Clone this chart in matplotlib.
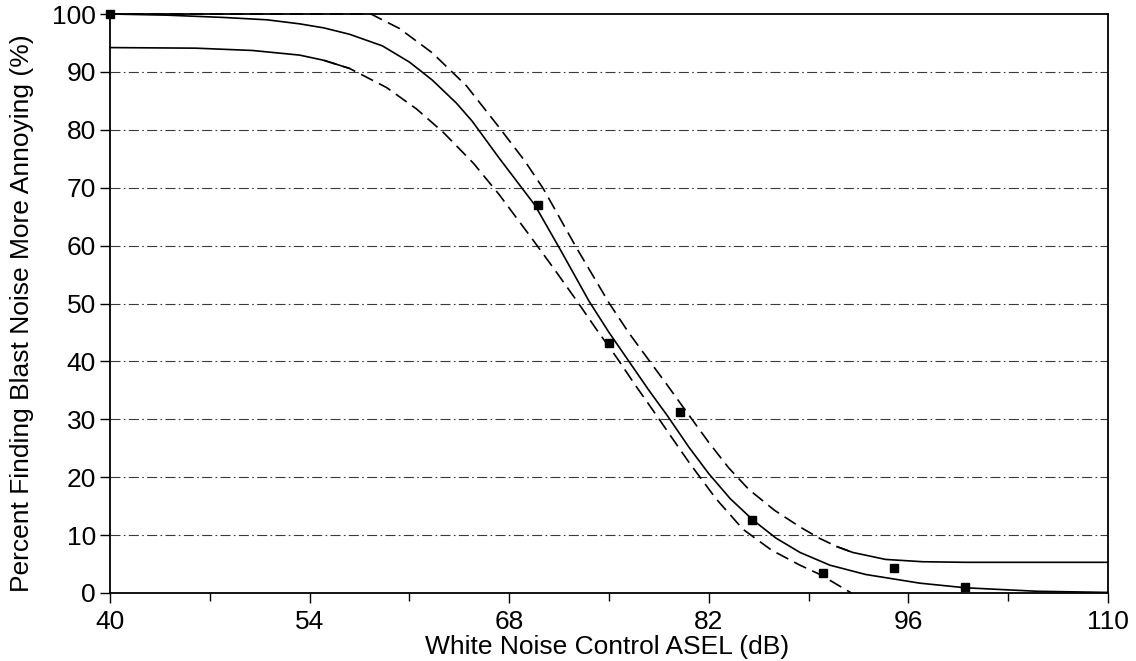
import matplotlib
matplotlib.use("Agg")
import matplotlib.pyplot as plt
import numpy as np

plt.rcParams['font.family'] = ['Liberation Sans', 'DejaVu Sans']

# Observed percentages at each white-noise control level
obs_x = [40, 70, 75, 80, 85, 90, 95, 100]
obs_y = [100, 67.0, 43.1, 31.2, 12.6, 3.5, 4.4, 1.0]

# Fitted response curve
fit_x = [40, 44, 48, 51, 53.3, 55.0, 56.8, 59.1, 61.0, 62.6, 64.3, 65.4, 67.3,
         69.8, 71.7, 73.6, 75.0, 76.4, 77.8, 79.1, 80.6, 82.0, 83.5, 85.1,
         86.7, 88.4, 90.5, 93.0, 96.8, 100, 105, 110]
fit_y = [100, 99.8, 99.4, 99.0, 98.3, 97.6, 96.5, 94.5, 91.7, 88.6, 84.6, 81.5,
         75.1, 67.0, 58.8, 50.4, 45.0, 40.0, 35.0, 30.6, 25.2, 20.6, 16.3,
         12.6, 9.5, 7.0, 4.8, 3.2, 1.7, 0.9, 0.3, 0.1]

# Upper confidence bound
up_x = [40, 50, 58.3, 60.3, 62.6, 65.0, 67.3, 69.1, 70.4, 72.7, 75.0, 76.4,
        77.8, 79.0, 80.2, 82.0, 83.4, 84.8, 86.6, 88.4, 89.8, 91.0, 92.1,
        94.4, 97, 100, 110]
up_y = [100, 100, 100, 97.5, 93.3, 87.6, 80.4, 74.6, 69.8, 59.7, 50.1, 44.9,
        40.2, 36.2, 32.1, 26.0, 21.6, 17.9, 14.3, 11.4, 9.4, 8.0, 7.0,
        5.8, 5.4, 5.3, 5.3]

# Lower confidence bound
lo_x = [40, 46, 50, 53.3, 55.0, 56.8, 59.4, 61.5, 63.4, 65.5, 67.3, 69.6,
        71.2, 72.7, 74.1, 75.5, 76.9, 78.3, 79.5, 80.6, 82.5, 84.4, 86.4,
        88.4, 89.8, 92.0]
lo_y = [94.2, 94.1, 93.7, 92.9, 92.0, 90.6, 87.3, 83.6, 79.5, 74.2, 68.8,
        61.2, 55.8, 50.6, 45.6, 40.8, 35.7, 30.8, 26.5, 22.6, 16.3, 11.0, 7.4,
        4.8, 3.2, 0.0]

grid_levels = [10, 20, 30, 40, 50, 60, 70, 80, 90]
x_major = [40, 54, 68, 82, 96, 110]
x_minor = [47, 61, 75, 89, 103]
y_ticks = [0, 10, 20, 30, 40, 50, 60, 70, 80, 90, 100]

fig = plt.figure(figsize=(11.36, 6.61), dpi=100)
ax = fig.add_axes([110 / 1136, 1 - 593 / 661, 998 / 1136, 579 / 661])

# dash-dot reference lines
for lvl in grid_levels:
    ax.axhline(lvl, color='#3a3a3a', lw=0.8, linestyle=(0, (9, 3, 1.5, 3)),
               zorder=1)

lw = 1.2
dash = (0, (8, 4))
ax.plot(fit_x, fit_y, color='black', lw=lw, zorder=3, clip_on=False)

lo_x_a, lo_y_a = np.array(lo_x), np.array(lo_y)
ax.plot(lo_x_a[lo_x_a <= 56.8], lo_y_a[lo_x_a <= 56.8], color='black', lw=lw,
        zorder=3, clip_on=False)
ax.plot(lo_x_a[lo_x_a >= 55.0], lo_y_a[lo_x_a >= 55.0], color='black', lw=lw,
        linestyle=dash, zorder=3, clip_on=False)

up_x_a, up_y_a = np.array(up_x), np.array(up_y)
ax.plot(up_x_a[up_x_a <= 92.1], up_y_a[up_x_a <= 92.1], color='black', lw=lw,
        linestyle=dash, zorder=3, clip_on=False)
ax.plot(up_x_a[up_x_a >= 91.0], up_y_a[up_x_a >= 91.0], color='black', lw=lw,
        zorder=3, clip_on=False)

ax.plot(obs_x, obs_y, linestyle='none', marker='s', markersize=5.8,
        color='black', zorder=4, clip_on=False)

ax.set_xlim(40, 110)
ax.set_ylim(0, 100)
ax.set_xticks(x_major)
ax.set_xticks(x_minor, minor=True)
ax.set_yticks(y_ticks)
ax.tick_params(axis='both', which='major', direction='out', length=7,
               width=1.0, labelsize=19, color='black')
ax.tick_params(axis='x', which='minor', direction='out', length=6, width=1.0)
ax.tick_params(axis='x', pad=5)
ax.tick_params(axis='y', pad=3)

for sp in ax.spines.values():
    sp.set_linewidth(1.3)
    sp.set_color('black')

ax.set_xlabel('White Noise Control ASEL (dB)', fontsize=19)
ax.set_ylabel('Percent Finding Blast Noise More Annoying (%)', fontsize=19)
ax.xaxis.set_label_coords(0.498, -0.072)
ax.yaxis.set_label_coords(-0.076, 0.484)

fig.savefig('out.png', dpi=100, facecolor='white')
